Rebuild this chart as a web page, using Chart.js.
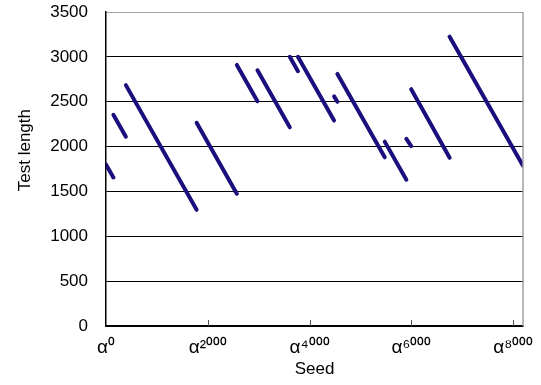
<!DOCTYPE html>
<html>
<head>
<meta charset="utf-8">
<script src="https://cdn.jsdelivr.net/npm/chart.js@4.4.1/dist/chart.umd.min.js"></script>
<style>
  html, body { margin: 0; padding: 0; background: #fff; }
  #wrap { width: 541px; height: 385px; }
</style>
</head>
<body>
<div id="wrap"><canvas id="chart" width="541" height="385"></canvas></div>
<script>
// segment start / end points (seed exponent, test length)
const segStartX = [0, 145, 390, 1780, 2570, 2975, 3610, 3770, 4480, 4545, 5475, 5900, 5995, 6750];
const segStartY = [1800, 2355, 2685, 2265, 2910, 2850, 3000, 3000, 2560, 2810, 2055, 2085, 2640, 3225];
const segEndX   = [145, 390, 1780, 2570, 2975, 3610, 3770, 4480, 4545, 5475, 5900, 5995, 6750, 8191];
const segEndY   = [1655, 2110, 1295, 1475, 2505, 2215, 2840, 2290, 2500, 1880, 1630, 2005, 1875, 1785];

const xTickValues = [0, 2000, 4000, 6000, 8000];
const yMin = 0, yMax = 3500, yStep = 500;
const xMin = 0, xMax = 8191;

const lineColor = "#1a0f7c";
const supDigits = { "0": "\u2070", "1": "\u00b9", "2": "\u00b2", "3": "\u00b3", "4": "\u2074",
                    "5": "\u2075", "6": "\u2076", "7": "\u2077", "8": "\u2078", "9": "\u2079" };

function alphaLabel(v) {
  return "\u03b1" + String(v).split("").map(c => supDigits[c]).join("");
}

const datasets = segStartX.map((x0, i) => ({
  data: [{ x: x0, y: segStartY[i] }, { x: segEndX[i], y: segEndY[i] }],
  borderColor: lineColor,
  borderWidth: 4,
  borderCapStyle: "round",
  pointRadius: 0,
  showLine: true,
  fill: false
}));

// right border of the plot box and the small inward tick marks on the x axis
const framePlugin = {
  id: "frame",
  afterDraw(chart) {
    const { ctx, chartArea } = chart;
    const xs = chart.scales.x;
    ctx.save();
    ctx.strokeStyle = "#a0a0a0";
    ctx.lineWidth = 1.5;
    ctx.beginPath();
    ctx.moveTo(chartArea.right, chartArea.top);
    ctx.lineTo(chartArea.right, chartArea.bottom);
    ctx.stroke();
    ctx.strokeStyle = "#555";
    ctx.lineWidth = 1;
    xTickValues.forEach(v => {
      if (v === 0) return;
      const px = Math.round(xs.getPixelForValue(v)) + 0.5;
      ctx.beginPath();
      ctx.moveTo(px, chartArea.bottom);
      ctx.lineTo(px, chartArea.bottom - 6);
      ctx.stroke();
    });
    ctx.restore();
  }
};

Chart.defaults.font.family = "'Liberation Sans', Arial, sans-serif";
Chart.defaults.color = "#000";

new Chart(document.getElementById("chart"), {
  type: "scatter",
  data: { datasets },
  options: {
    responsive: false,
    animation: false,
    layout: { padding: { left: 0, right: 18, top: 12, bottom: 0 } },
    plugins: { legend: { display: false }, tooltip: { enabled: false } },
    scales: {
      x: {
        type: "linear",
        min: xMin,
        max: xMax,
        afterBuildTicks: s => { s.ticks = xTickValues.map(v => ({ value: v })); },
        afterFit: s => { s.height = 59; s.paddingLeft = 0; s.paddingRight = 0; },
        ticks: {
          includeBounds: false,
          maxRotation: 0,
          autoSkip: false,
          padding: 10,
          font: { size: 19 },
          callback: v => alphaLabel(v)
        },
        grid: { display: true, drawOnChartArea: false, drawTicks: false },
        border: { color: "#000", width: 1.5 },
        title: { display: true, text: "Seed", font: { size: 17 }, padding: { top: 6, bottom: 5 } }
      },
      y: {
        min: yMin,
        max: yMax,
        afterFit: s => { s.width = 106; s.paddingTop = 0; s.paddingBottom = 0; },
        ticks: { stepSize: yStep, padding: 18, font: { size: 17 }, callback: v => String(v) },
        grid: {
          drawTicks: false,
          color: c => (c.tick && c.tick.value === yMax) ? "#a0a0a0" : "#000",
          lineWidth: 1
        },
        border: { color: "#000", width: 1.5 },
        // leading spaces push the title up a little, as in the original
        title: { display: true, text: "        Test length", font: { size: 17 }, padding: { top: 15, bottom: 0 } }
      }
    }
  },
  plugins: [framePlugin]
});
</script>
</body>
</html>
